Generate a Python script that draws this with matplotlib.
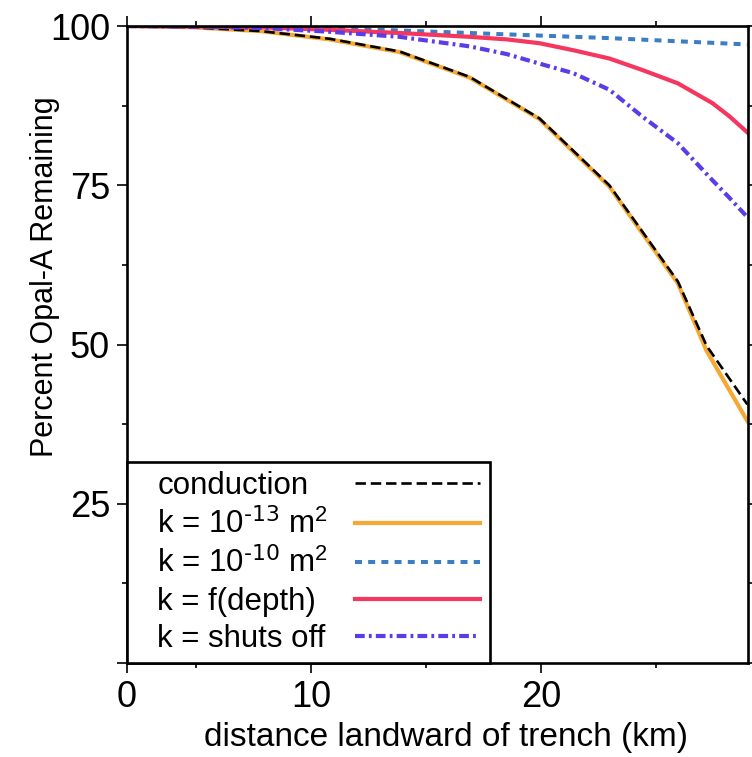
import matplotlib
matplotlib.use("Agg")
import matplotlib.pyplot as plt
from matplotlib.offsetbox import DrawingArea
from matplotlib.ticker import FixedLocator

plt.rcParams["font.family"] = ["Liberation Sans", "DejaVu Sans"]
plt.rcParams["mathtext.default"] = "regular"
plt.rcParams["axes.unicode_minus"] = False
plt.rcParams["lines.scale_dashes"] = False

# distance landward of trench (km) vs percent opal-A remaining
dist_km = [2.0, 4.8, 7.8, 10.8, 13.85, 16.9, 19.93, 22.97, 25.95, 27.2, 28.97]
conduction = [100.0, 99.8, 99.2, 98.0, 96.0, 92.0, 85.5, 75.0, 59.9, 49.8, 40.6]
k_1e13 = [100.0, 99.8, 99.2, 97.9, 95.9, 91.9, 85.4, 74.8, 59.6, 49.0, 38.0]
k_1e10 = [100.0, 99.95, 99.85, 99.6, 99.3, 98.9, 98.5, 98.1, 97.6, 97.4, 97.1]

curve_km = [2.0, 4.8, 7.8, 10.8, 13.85, 16.9, 18.5, 19.93, 21.4, 22.97,
            24.4, 25.95, 27.45, 28.2, 28.97]
k_depth = [100.0, 99.95, 99.8, 99.4, 98.9, 98.3, 97.9, 97.3, 96.2, 94.9,
           93.1, 91.0, 87.9, 85.8, 83.3]
k_shutoff = [100.0, 99.9, 99.7, 99.1, 98.3, 96.8, 95.6, 94.1, 92.6, 90.0,
             85.8, 81.6, 75.8, 73.0, 70.0]

x_major = [2, 10, 20]
x_major_labels = ["0", "10", "20"]
x_minor = [5, 15, 25]
y_major = [0, 25, 50, 75, 100]
y_major_labels = ["", "25", "50", "75", "100"]
y_minor = [12.5, 37.5, 62.5, 87.5]

fig = plt.figure(figsize=(7.52, 7.57), dpi=100)
ax = fig.add_axes([127 / 752, 94 / 757, 621 / 752, 637 / 757])

ax.plot(dist_km, k_1e13, color="#F5A833", lw=3.0,
        label=r"k = 10$^{\text{-13}}$ m$^2$")
ax.plot(dist_km, conduction, color="black", lw=1.9, dashes=(7.5, 3.5),
        label="conduction")
ax.plot(dist_km, k_1e10, color="#3C7DC3", lw=2.9, dashes=(5, 4.5),
        label=r"k = 10$^{\text{-10}}$ m$^2$")
ax.plot(curve_km, k_depth, color="#F5365F", lw=3.0, label="k = f(depth)")
ax.plot(curve_km, k_shutoff, color="#5A3DE8", lw=3.0, dashes=(7, 3, 2, 3),
        label="k = shuts off")

ax.set_xlim(2, 29)
ax.set_ylim(0, 100)
ax.xaxis.set_major_locator(FixedLocator(x_major))
ax.set_xticklabels(x_major_labels)
ax.xaxis.set_minor_locator(FixedLocator(x_minor))
ax.yaxis.set_major_locator(FixedLocator(y_major))
ax.set_yticklabels(y_major_labels)
ax.yaxis.set_minor_locator(FixedLocator(y_minor))
ax.tick_params(which="both", direction="out", top=True, right=True,
               width=1.2, labelsize=26, pad=5)
ax.tick_params(which="major", length=7.2)
ax.tick_params(which="minor", length=3.6)
for s in ax.spines.values():
    s.set_linewidth(1.9)

ax.set_xlabel("distance landward of trench (km)", fontsize=24)
ax.xaxis.set_label_coords(0.514, -0.093)
ax.set_ylabel("Percent Opal-A Remaining", fontsize=22)
ax.yaxis.set_label_coords(-0.108, 0.606)

handles, labels = ax.get_legend_handles_labels()
order = [1, 0, 2, 3, 4]
fs = 22.5
leg = ax.legend([handles[i] for i in order], [labels[i] for i in order],
                loc="lower left", bbox_to_anchor=(0, 0), borderaxespad=0,
                markerfirst=False, fontsize=fs, handlelength=4.0,
                handletextpad=0, labelspacing=0.22, borderpad=0.3,
                fancybox=False, framealpha=1, edgecolor="black")
leg.get_frame().set_linewidth(1.9)

# texts left-aligned in one column, handles in another on the right
fig.canvas.draw()
r = fig.canvas.get_renderer()
pt = r.points_to_pixels(1.0)
rows = leg._legend_handle_box.get_children()[0].get_children()
widths = [row.get_children()[0].get_bbox(r).width for row in rows]
for row, w in zip(rows, widths):
    kids = row.get_children()
    kids.insert(0, DrawingArea(15.1, 0))
    kids.insert(2, DrawingArea(19.4 + (max(widths) - w) / pt, 0))
    row.sep = 0

fig.savefig("out.png", dpi=100)
